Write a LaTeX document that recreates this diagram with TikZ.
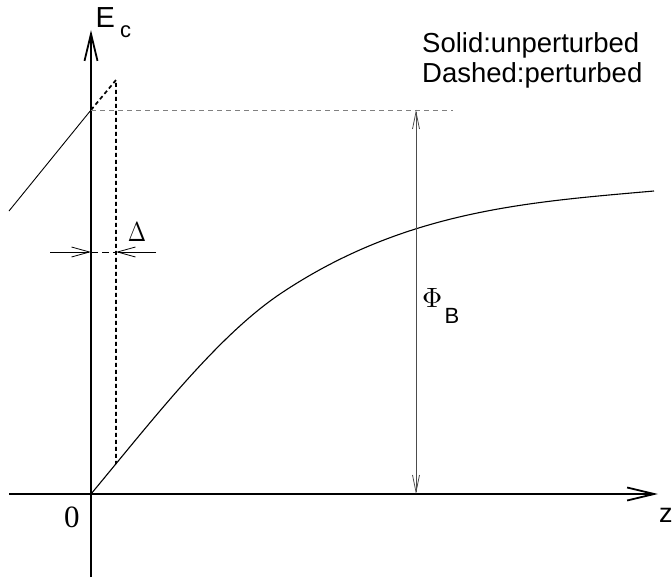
\documentclass[tikz,border=0pt]{standalone}
\usepackage{fontspec}
\setmainfont{Liberation Sans}
\newfontfamily\serifgr{Liberation Serif}
\usetikzlibrary{arrows.meta}
\begin{document}
\begin{tikzpicture}[x=1bp,y=-1bp,
  axisline/.style={line width=1.8bp,-{Straight Barb[length=27bp,width=13bp]}},
  thinline/.style={line width=0.9bp},
  pertdash/.style={line width=1.7bp,dash pattern=on 4bp off 3bp},
  greydash/.style={line width=0.9bp,gray,dash pattern=on 5bp off 4bp},
  deltaarrow/.style={line width=0.8bp,-{Straight Barb[length=18bp,width=10bp]}},
  phiarrow/.style={line width=0.8bp,black!70,{Straight Barb[length=17bp,width=7bp]}-{Straight Barb[length=17bp,width=7bp]}},
  lbl/.style={inner sep=0pt,anchor=base west}]
\useasboundingbox (0,0) rectangle (672,581);
% coordinates
\coordinate (O) at (91,494);
\coordinate (ybot) at (91,577);
\coordinate (ytop) at (91,30);
\coordinate (xleft) at (9,494);
\coordinate (xright) at (658,494);
\coordinate (K) at (91,110);
\coordinate (Kleft) at (9,211);
\coordinate (P) at (116,80);
\coordinate (Pbot) at (116,464);
\coordinate (Href) at (453,110);
\coordinate (Ptop) at (416,110);
\coordinate (Pbase) at (416,494);
\coordinate (M) at (283,292);
\coordinate (Cend) at (654,191);
\coordinate (dL0) at (50,252);
\coordinate (dL1) at (91,252);
\coordinate (dR0) at (156,252);
\coordinate (dR1) at (116,252);
% axes
\draw[axisline] (ybot) -- (ytop);
\draw[axisline] (xleft) -- (xright);
% unperturbed left line
\draw[thinline] (Kleft) -- (K);
% perturbed dashed
\draw[pertdash] (K) -- (P) -- (Pbot);
% grey reference line
\draw[greydash] (K) -- (Href);
% curve
\draw[line width=1.1bp] (O) .. controls (155,417) and (219,334) .. (M)
  .. controls (407,210) and (530,202) .. (Cend);
% Delta arrows
\draw[deltaarrow] (dL0) -- (dL1);
\draw[deltaarrow] (dR0) -- (dR1);
\draw[line width=0.8bp,dash pattern=on 7bp off 4bp] (dL1) -- (dR1);
% Phi arrow
\draw[phiarrow] (Ptop) -- (Pbase);
% labels
\node[lbl] (Ec) at (95.5,28) {\fontsize{29bp}{30bp}\selectfont E\hspace{5bp}\raisebox{-10bp}{\fontsize{22bp}{24bp}\selectfont c}};
\node[lbl] (leg1) at (422,53) {\fontsize{27.5bp}{30bp}\selectfont Solid:unperturbed};
\node[lbl] (leg2) at (422,83) {\fontsize{27.5bp}{30bp}\selectfont Dashed:perturbed};
\node[lbl,xscale=2.2,yscale=2.75] (delta) at (127.5,241) {$\Delta$};
\node[lbl,scale=2.8] (phi) at (421.5,307) {$\Phi$};
\node[lbl] (phiB) at (444.5,323) {\fontsize{22bp}{24bp}\selectfont B};
\node[lbl] (zero) at (64,527) {\serifgr\fontsize{31bp}{32bp}\selectfont 0};
\node[lbl] (zl) at (659,522) {\fontsize{27bp}{28bp}\selectfont z};
\end{tikzpicture}
\end{document}
